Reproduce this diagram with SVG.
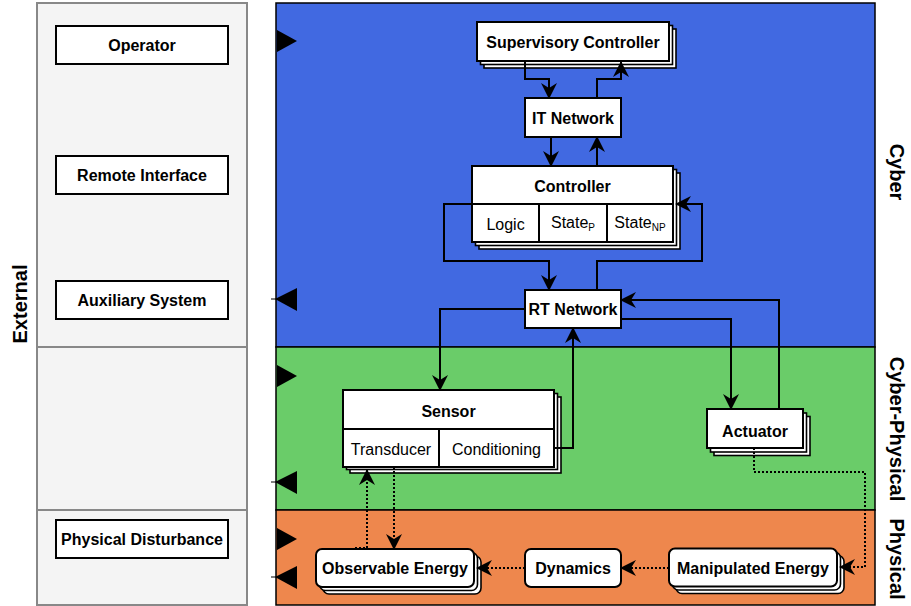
<svg xmlns="http://www.w3.org/2000/svg" width="911" height="606" viewBox="0 0 911 606">
  <style>
    .lbl { font-family: "Liberation Sans", Arial, sans-serif; font-weight: bold; font-size: 16px; text-anchor: middle; dominant-baseline: central; fill: #000; }
    .cell { font-family: "Liberation Sans", Arial, sans-serif; font-size: 16px; text-anchor: middle; dominant-baseline: central; fill: #000; }
    .layer { font-family: "Liberation Sans", Arial, sans-serif; font-weight: bold; font-size: 20px; text-anchor: middle; dominant-baseline: central; fill: #000; }
    .box { fill: #fff; stroke: #000; stroke-width: 2; }
    .stack { fill: #fff; stroke: #000; stroke-width: 1.6; }
    .wire { fill: none; stroke: #000; stroke-width: 2; marker-end: url(#head); }
    .flow { fill: none; stroke: #000; stroke-width: 2; stroke-dasharray: 2 2; marker-end: url(#head); }
    .port { fill: #000; }
  </style>
  <defs>
    <marker id="head" viewBox="0 0 16 16" refX="15" refY="8" markerWidth="16" markerHeight="16" markerUnits="userSpaceOnUse" orient="auto">
      <path d="M0,0 L16,8 L0,16 L5,8 Z" fill="#000"/>
    </marker>
  </defs>

  <!-- External column -->
  <g id="external-column">
    <rect x="37" y="3" width="210" height="602" fill="#f4f4f4" stroke="#888" stroke-width="2"/>
    <line x1="37" y1="347" x2="247" y2="347" stroke="#888" stroke-width="2"/>
    <line x1="37" y1="510" x2="247" y2="510" stroke="#888" stroke-width="2"/>
    <text class="layer" transform="translate(20,304) rotate(-90)" font-size="21">External</text>
  </g>

  <!-- Layer bands -->
  <g id="layers">
    <rect x="276" y="3" width="599" height="344" fill="#4169e1" stroke="#000" stroke-width="1.5"/>
    <rect x="276" y="347" width="599" height="163" fill="#6acc69" stroke="#000" stroke-width="1.5"/>
    <rect x="276" y="510" width="599" height="95" fill="#ee874d" stroke="#000" stroke-width="1.5"/>
    <text class="layer" transform="translate(897,172) rotate(90)">Cyber</text>
    <text class="layer" transform="translate(897,429) rotate(90)">Cyber-Physical</text>
    <text class="layer" transform="translate(897,559) rotate(90)">Physical</text>
  </g>

  <!-- External nodes -->
  <g id="operator">
    <rect class="box" x="56" y="26" width="172" height="38"/>
    <text class="lbl" x="142" y="45">Operator</text>
  </g>
  <g id="remote-interface">
    <rect class="box" x="56" y="156" width="172" height="38"/>
    <text class="lbl" x="142" y="175">Remote Interface</text>
  </g>
  <g id="auxiliary-system">
    <rect class="box" x="56" y="281" width="172" height="38"/>
    <text class="lbl" x="142" y="300">Auxiliary System</text>
  </g>
  <g id="physical-disturbance">
    <rect class="box" x="56" y="520" width="172" height="38"/>
    <text class="lbl" x="142" y="539">Physical Disturbance</text>
  </g>

  <!-- Cyber nodes -->
  <g id="supervisory-controller">
    <rect class="stack" x="484" y="29" width="192" height="39"/>
    <rect class="stack" x="480.5" y="25.5" width="192" height="39"/>
    <rect class="box" x="477" y="22" width="192" height="39"/>
    <text class="lbl" x="573" y="42">Supervisory Controller</text>
  </g>
  <g id="it-network">
    <rect class="box" x="525" y="98" width="96" height="39"/>
    <text class="lbl" x="573" y="118">IT Network</text>
  </g>
  <g id="controller">
    <rect class="stack" x="479" y="173" width="201" height="76"/>
    <rect class="stack" x="475.5" y="169.5" width="201" height="76"/>
    <rect class="box" x="472" y="166" width="201" height="76"/>
    <line x1="472" y1="204" x2="673" y2="204" stroke="#000" stroke-width="2"/>
    <line x1="539" y1="204" x2="539" y2="242" stroke="#000" stroke-width="2"/>
    <line x1="607" y1="204" x2="607" y2="242" stroke="#000" stroke-width="2"/>
    <text class="lbl" x="572.5" y="186">Controller</text>
    <text class="cell" x="505.5" y="224">Logic</text>
    <text class="cell" x="573" y="222">State<tspan font-size="10" dy="5">P</tspan></text>
    <text class="cell" x="640" y="222">State<tspan font-size="10" dy="5">NP</tspan></text>
  </g>
  <g id="rt-network">
    <rect class="box" x="525" y="290" width="96" height="38"/>
    <text class="lbl" x="573" y="309">RT Network</text>
  </g>

  <!-- Cyber-physical nodes -->
  <g id="sensor">
    <rect class="stack" x="350" y="397" width="211" height="76"/>
    <rect class="stack" x="346.5" y="393.5" width="211" height="76"/>
    <rect class="box" x="343" y="390" width="211" height="77"/>
    <line x1="343" y1="429" x2="554" y2="429" stroke="#000" stroke-width="2"/>
    <line x1="439" y1="429" x2="439" y2="467" stroke="#000" stroke-width="2"/>
    <text class="lbl" x="448.5" y="411">Sensor</text>
    <text class="cell" x="391" y="449">Transducer</text>
    <text class="cell" x="496.5" y="449">Conditioning</text>
  </g>
  <g id="actuator">
    <rect class="stack" x="714" y="416.5" width="96" height="39"/>
    <rect class="stack" x="710.5" y="413" width="96" height="39"/>
    <rect class="box" x="707" y="409" width="96" height="39"/>
    <text class="lbl" x="755" y="431">Actuator</text>
  </g>

  <!-- Physical nodes -->
  <g id="observable-energy">
    <rect class="stack" x="323" y="556" width="158" height="38" rx="6"/>
    <rect class="stack" x="319.5" y="552.5" width="158" height="38" rx="6"/>
    <rect class="box" x="316" y="549" width="158" height="38" rx="6"/>
    <text class="lbl" x="395" y="568">Observable Energy</text>
  </g>
  <g id="dynamics">
    <rect class="box" x="525" y="549" width="96" height="38" rx="6"/>
    <text class="lbl" x="573" y="568">Dynamics</text>
  </g>
  <g id="manipulated-energy">
    <rect class="stack" x="676" y="555.5" width="168" height="38" rx="6"/>
    <rect class="stack" x="672.5" y="552" width="168" height="38" rx="6"/>
    <rect class="box" x="669" y="548.5" width="168" height="38" rx="6"/>
    <text class="lbl" x="753" y="568">Manipulated Energy</text>
  </g>

  <!-- Connectors -->
  <g id="connectors">
    <path class="wire" d="M525,61 V79 H549 V98"/>
    <path class="wire" d="M597,98 V79 H621 V62"/>
    <path class="wire" d="M551,137 V166"/>
    <path class="wire" d="M597,166 V137"/>
    <path class="wire" d="M472,204 H444 V261 H549 V290"/>
    <path class="wire" d="M597,290 V261 H702 V204 H676"/>
    <path class="wire" d="M525,309 H440 V390"/>
    <path class="wire" d="M554,448 H573 V328"/>
    <path class="wire" d="M621,319 H731 V409"/>
    <path class="wire" d="M779,409 V300 H621"/>
    <path class="flow" d="M754,448 V472 H865 V567 H840"/>
    <path class="flow" d="M669,568 H621"/>
    <path class="flow" d="M525,568 H477"/>
    <path class="flow" d="M355,548 H367 V470"/>
    <path class="flow" d="M394,467 V549"/>
    <!-- boundary ports on the left edge of the system -->
    <path class="port" d="M277,30 L297,41 L277,52 Z"/>
    <path class="port" d="M275,299 L297,288 L297,311 Z"/>
    <path class="port" d="M277,365 L297,376 L277,387 Z"/>
    <path class="port" d="M275,482 L297,471 L297,494 Z"/>
    <path class="port" d="M277,528 L297,539 L277,550 Z"/>
    <path class="port" d="M275,577 L297,566 L297,589 Z"/>
    <line x1="271" y1="299" x2="277" y2="299" stroke="#000" stroke-width="1"/>
    <line x1="271" y1="482" x2="277" y2="482" stroke="#000" stroke-width="1"/>
    <line x1="271" y1="577" x2="277" y2="577" stroke="#000" stroke-width="1"/>
  </g>
</svg>
